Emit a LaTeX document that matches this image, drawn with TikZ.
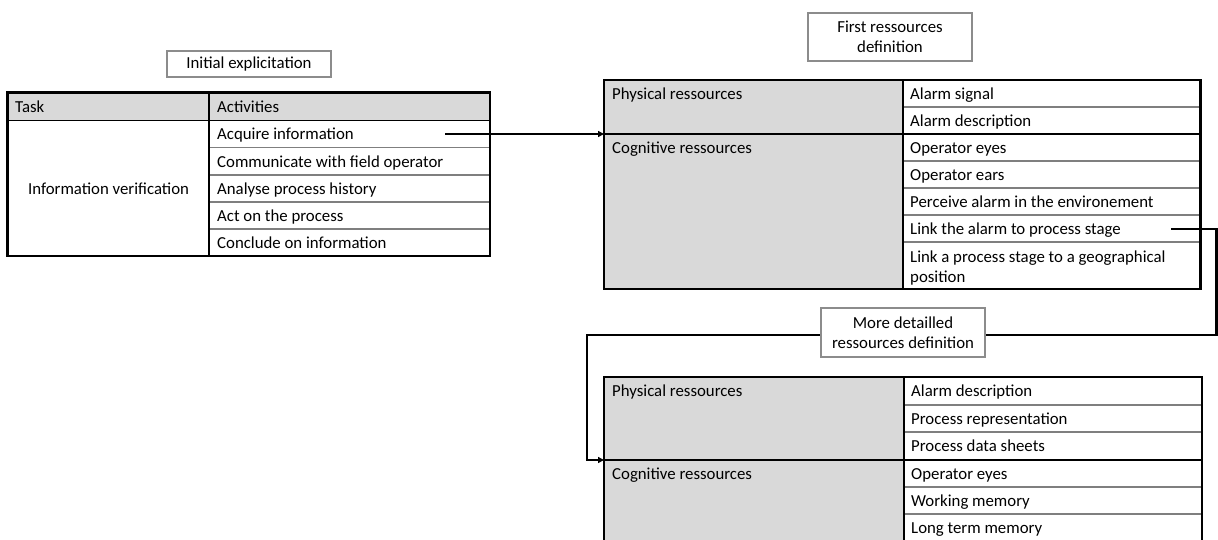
\documentclass[tikz,border=0pt]{standalone}
\usepackage{fontspec}
\setmainfont{Carlito}
\usetikzlibrary{arrows.meta}
\definecolor{cellgray}{HTML}{D9D9D9}
\definecolor{sepgray}{HTML}{7F7F7F}
\definecolor{boxgray}{HTML}{8C8C8C}
\begin{document}
\begin{tikzpicture}[x=1pt,y=-1pt,
  txt/.style={anchor=base west,inner sep=0pt,font=\fontsize{16.8}{20}\selectfont},
  ctxt/.style={anchor=base,inner sep=0pt,font=\fontsize{16.8}{20}\selectfont},
  border/.style={draw=black,line width=2.4pt},
  coldiv/.style={draw=black,line width=1.6pt},
  secline/.style={draw=black,line width=2.2pt},
  rowline/.style={draw=sepgray,line width=1.3pt},
  titlebox/.style={draw=boxgray,line width=1.1pt,fill=white,align=center,inner sep=0pt,
    font=\fontsize{16.8}{20}\selectfont,minimum width=164pt},
  conn/.style={draw=black,line width=2.2pt},
  arr/.style={-{Triangle[length=6pt,width=6pt]}}]
\clip (0,0) rectangle (1218,539);
\fill[white] (0,0) rectangle (1218,539);

% ---------- Left table ----------
\fill[cellgray] (7.5,92.5) rectangle (490,120.5);
\foreach \y in {147.5,175,202,229} \draw[rowline] (209,\y) -- (490,\y);
\draw[coldiv] (209,92.5) -- (209,256);
\draw[coldiv] (7.5,120.5) -- (490,120.5);
\draw[border] (7.5,92.5) rectangle (490,256);
\node[txt] (hTask) at (15,112) {Task};
\node[txt] (hAct) at (217,112) {Activities};
\node[ctxt] (task) at (108.5,194) {Information verification};
\node[txt] (a1) at (217,139.5) {Acquire information};
\node[txt] (a2) at (217,167) {Communicate with field operator};
\node[txt] (a3) at (217,194) {Analyse process history};
\node[txt] (a4) at (217,221) {Act on the process};
\node[txt] (a5) at (217,248) {Conclude on information};

% ---------- Top-right table ----------
\fill[cellgray] (604,80) rectangle (903,289);
\foreach \y in {107,161,188,215,242} \draw[rowline] (903,\y) -- (1200.5,\y);
\draw[coldiv] (903,80) -- (903,289);
\draw[secline] (604,134) -- (1200.5,134);
\draw[border] (604,80) rectangle (1200.5,289);
\node[txt] (p1) at (612,99) {Physical ressources};
\node[txt] (c1) at (612,153) {Cognitive ressources};
\node[txt] (r1) at (910,99) {Alarm signal};
\node[txt] (r2) at (910,126) {Alarm description};
\node[txt] (r3) at (910,153) {Operator eyes};
\node[txt] (r4) at (910,180) {Operator ears};
\node[txt] (r5) at (910,207) {Perceive alarm in the environement};
\node[txt] (r6) at (910,234) {Link the alarm to process stage};
\node[txt] (r7) at (910,262.5) {Link a process stage to a geographical};
\node[txt] (r7b) at (910,282.5) {position};

% ---------- Bottom-right table ----------
\fill[cellgray] (604,377) rectangle (904,545);
\foreach \y in {405,432,487,514} \draw[rowline] (904,\y) -- (1202,\y);
\draw[coldiv] (904,377) -- (904,545);
\draw[secline] (604,460) -- (1202,460);
\draw[border] (604,377) rectangle (1202,541);
\node[txt] (p2) at (612,396.5) {Physical ressources};
\node[txt] (c2) at (612,479) {Cognitive ressources};
\node[txt] (s1) at (911,396.5) {Alarm description};
\node[txt] (s2) at (911,424) {Process representation};
\node[txt] (s3) at (911,451.5) {Process data sheets};
\node[txt] (s4) at (911,479) {Operator eyes};
\node[txt] (s5) at (911,506) {Working memory};
\node[txt] (s6) at (911,533) {Long term memory};

% ---------- Connectors ----------
\coordinate (k1s) at (445,134);
\coordinate (k1e) at (604,134);
\draw[conn,arr] (k1s) -- (k1e);

\coordinate (k2s) at (1171,229);
\coordinate (k2r) at (1216.5,229);
\coordinate (k2d) at (1216.5,335);
\coordinate (k2l) at (587,335);
\coordinate (k2b) at (587,460);
\coordinate (k2e) at (604,460);
\draw[conn,arr] (k2s) -- (k2r) -- (k2d) -- (k2l) -- (k2b) -- (k2e);

% ---------- Title boxes ----------
\node[titlebox,minimum height=26pt] (tInit) at (249,64) {Initial explicitation};
\node[titlebox,minimum height=48pt] (tFirst) at (890,37) {First ressources\\definition};
\node[titlebox,minimum height=49pt] (tMore) at (903,332.5) {More detailled\\ressources definition};
\end{tikzpicture}
\end{document}
